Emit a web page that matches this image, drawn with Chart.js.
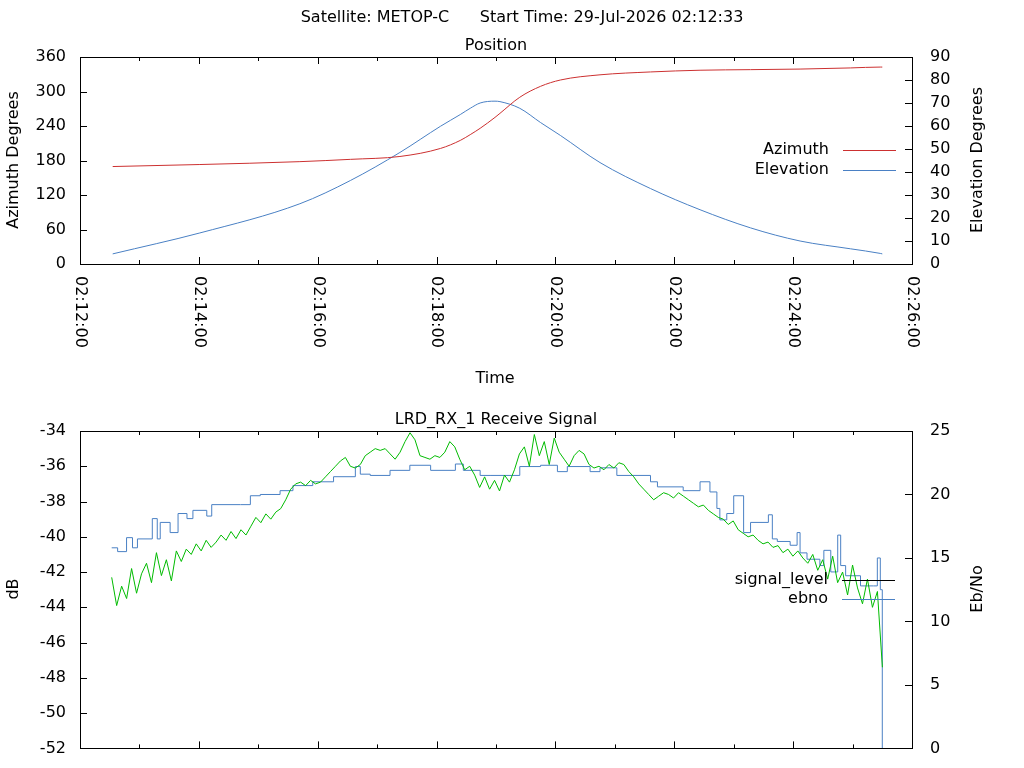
<!DOCTYPE html>
<html>
<head>
<meta charset="utf-8">
<script src="https://cdn.jsdelivr.net/npm/chart.js@4"></script>
<style>
  body { margin: 0; background: #fff; overflow: hidden; }
  #wrap { position: relative; width: 1024px; height: 768px; overflow: hidden; }
  canvas { position: absolute; left: 0; }
</style>
</head>
<body>
<div id="wrap">
  <canvas id="posChart" style="top:0" width="1024" height="400"></canvas>
  <canvas id="sigChart" style="top:400px" width="1024" height="376"></canvas>
</div>
<script>
// time is seconds after 02:12:00
const posTime = [33, 121, 222, 273, 323, 364, 384, 394, 404, 419, 424, 444, 465, 485, 525, 576, 626, 677, 727, 778, 808, 810];
const azimuth = [169.5, 173, 178, 182, 187, 201, 215, 225, 236, 255, 262, 290, 309, 320, 329, 334, 337, 338, 339, 341, 342.5, 342.5];
const elevation = [4.4, 13.5, 26.2, 36.3, 48.5, 59.9, 65, 67.7, 70, 70.8, 70.6, 67.7, 61.5, 55.9, 44.1, 32.8, 23.6, 15.7, 10.0, 6.6, 4.6, 4.4];

// signal level (dB), sampled every ~5 s from 02:12:32
const sigStart = 32, sigStep = 5.02;
const signalLevel = [
  -42.3, -43.9, -42.8, -43.5, -41.8, -43.2, -42.1,
  -41.5, -42.6, -40.9, -42.2, -41.3, -42.5, -40.8,
  -41.4, -40.7, -41.0, -40.4, -40.8, -40.2, -40.6,
  -40.3, -39.9, -40.2, -39.7, -40.1, -39.6, -39.9,
  -39.4, -38.9, -39.2, -38.7, -39.0, -38.6, -38.4,
  -37.9, -37.3, -37.0, -36.9, -37.1, -36.8, -37.0,
  -36.9, -36.6, -36.3, -36.0, -35.7, -35.5, -36.0,
  -36.1, -35.9, -35.4, -35.2, -35.0, -35.1, -35.0,
  -35.3, -35.6, -35.2, -34.6, -34.1, -34.5, -35.4,
  -35.5, -35.6, -35.4, -35.5, -35.2, -34.6, -34.9,
  -35.6, -36.2, -36.0, -36.5, -37.2, -36.6, -37.3,
  -36.8, -37.4, -36.5, -36.9, -36.2, -35.3, -34.9,
  -36.0, -34.2, -35.4, -34.6, -35.9, -34.4, -35.2,
  -35.6, -36.0, -35.4, -35.1, -35.3, -35.9, -36.1,
  -36.0, -36.2, -35.9, -36.1, -35.8, -35.9, -36.3,
  -36.6, -37.0, -37.3, -37.6, -37.9, -37.7, -37.5,
  -37.6, -37.8, -37.5, -37.7, -37.9, -38.1, -38.3,
  -38.2, -38.5, -38.7, -38.9, -39.0, -39.3, -39.1,
  -39.6, -39.8, -40.0, -39.9, -40.2, -40.4, -40.3,
  -40.6, -40.5, -40.9, -40.7, -41.1, -40.8, -41.2,
  -41.5, -41.0, -41.9, -41.3, -42.4, -41.1, -42.6,
  -42.0, -43.3, -41.6, -42.9, -43.8, -42.4, -44.0,
  -43.1, -47.4
];

const ebnoTime = [32, 38, 47, 53, 58, 73, 78, 81, 91, 99, 108, 114, 128, 133, 162, 172, 182, 202, 215, 235, 256, 278, 283, 293, 313, 333, 354, 379, 387, 404,
  414, 444, 465, 482, 492, 515, 525, 542, 576, 583, 609, 626, 636, 643, 646, 653, 660, 670, 677, 695, 699, 704, 717, 724, 727, 734, 747, 751, 758, 765, 768, 773, 788, 801, 805, 808, 810];
const ebno = [15.8, 15.5, 16.6, 15.8, 16.5, 18.1, 16.5, 17.8, 17.0, 18.5, 18.1, 18.75, 18.3, 19.2, 19.2, 19.9, 20.0, 20.3, 20.7, 21.0, 21.4, 22.2, 21.6, 21.5, 21.9, 22.3, 21.9, 22.4, 21.9, 21.5,
  21.5, 22.2, 22.3, 21.8, 22.2, 21.8, 22.1, 21.5, 21.0, 20.6, 20.3, 21.0, 20.2, 18.9, 18.0, 18.5, 19.9, 17.0, 17.8, 18.4, 16.5, 16.3, 16.0, 17.0, 15.4, 14.9, 14.4, 15.6, 13.9, 16.8, 14.4, 13.6, 12.8, 12.8, 15.0, 12.5, 0];

const FONT = '"DejaVu Sans", sans-serif';
const FS = 16;
const RED = '#cc3030', BLUE = '#4a80c4', GREEN = '#00bb00';

function pts(xs, ys) { return ys.map((y, i) => ({ x: xs[i], y: y })); }

// gnuplot-like frame, inward ticks, rotated labels, key and texts
const gnuFrame = {
  id: 'gnu',
  afterDraw(chart, args, opts) {
    const ctx = chart.ctx, a = chart.chartArea;
    const sx = chart.scales.x;
    ctx.save();
    ctx.strokeStyle = '#000';
    ctx.lineWidth = 1;
    ctx.strokeRect(Math.round(a.left) + 0.5, Math.round(a.top) + 0.5, Math.round(a.right - a.left), Math.round(a.bottom - a.top));
    ctx.beginPath();
    for (let t = 0; t <= 840; t += 60) {
      const px = Math.round(sx.getPixelForValue(t)) + 0.5;
      const len = t % 120 === 0 ? 7 : 4;
      ctx.moveTo(px, a.bottom); ctx.lineTo(px, a.bottom - len);
      ctx.moveTo(px, a.top); ctx.lineTo(px, a.top + len);
    }
    ['y', 'y2'].forEach(id => {
      const s = chart.scales[id];
      s.ticks.forEach(tk => {
        const py = Math.round(s.getPixelForValue(tk.value)) + 0.5;
        if (id === 'y') { ctx.moveTo(a.left, py); ctx.lineTo(a.left + 7, py); }
        else { ctx.moveTo(a.right, py); ctx.lineTo(a.right - 7, py); }
      });
    });
    ctx.stroke();
    ctx.fillStyle = '#000';
    ctx.font = FS + 'px ' + FONT;
    if (opts.timeLabels) {
      for (let t = 0; t <= 840; t += 120) {
        const px = sx.getPixelForValue(t);
        const m = 12 + t / 60;
        ctx.save();
        ctx.translate(px, a.bottom + 12);
        ctx.rotate(Math.PI / 2);
        ctx.textAlign = 'left';
        ctx.textBaseline = 'middle';
        ctx.fillText('02:' + (m < 10 ? '0' : '') + m + ':00', 0, 0);
        ctx.restore();
      }
    }
    (opts.texts || []).forEach(tx => {
      ctx.save();
      ctx.translate(tx.x, tx.y);
      if (tx.rot) ctx.rotate(tx.rot);
      ctx.textAlign = tx.align || 'center';
      ctx.textBaseline = 'middle';
      ctx.fillText(tx.text, 0, 0);
      ctx.restore();
    });
    (opts.key || []).forEach(k => {
      ctx.textAlign = 'right';
      ctx.textBaseline = 'middle';
      ctx.fillStyle = '#000';
      ctx.fillText(k.text, k.x, k.y);
      ctx.strokeStyle = k.color;
      ctx.beginPath();
      ctx.moveTo(k.x + 14, Math.round(k.y) + 0.5);
      ctx.lineTo(k.x + 67, Math.round(k.y) + 0.5);
      ctx.stroke();
    });
    ctx.restore();
  }
};

function axis(pos, min, max, step, pad, width) {
  return {
    position: pos, min: min, max: max,
    grid: { display: false, drawTicks: false },
    border: { display: false },
    ticks: { stepSize: step, padding: pad, color: '#000', font: { family: FONT, size: FS } },
    afterFit: s => { s.width = width; }
  };
}

const xAxis = h => ({
  type: 'linear', min: 0, max: 840,
  grid: { display: false, drawTicks: false },
  border: { display: false },
  ticks: { display: false },
  afterFit: s => { s.height = h; }
});

new Chart(document.getElementById('posChart'), {
  type: 'line',
  data: {
    datasets: [
      { data: pts(posTime, azimuth), yAxisID: 'y', borderColor: RED, borderWidth: 1, pointRadius: 0, cubicInterpolationMode: 'monotone' },
      { data: pts(posTime, elevation), yAxisID: 'y2', borderColor: BLUE, borderWidth: 1, pointRadius: 0, cubicInterpolationMode: 'monotone' }
    ]
  },
  options: {
    responsive: false, animation: false,
    layout: { padding: { top: 57, left: 0, right: 0, bottom: 0 } },
    scales: {
      x: xAxis(136),
      y: axis('left', 0, 360, 60, 14, 80),
      y2: axis('right', 0, 90, 10, 18, 112)
    },
    plugins: {
      legend: { display: false }, tooltip: { enabled: false },
      gnu: {
        timeLabels: true,
        texts: [
          { text: 'Satellite: METOP-C      Start Time: 29-Jul-2026 02:12:33', x: 522, y: 18 },
          { text: 'Position', x: 496, y: 46 },
          { text: 'Time', x: 495, y: 379 },
          { text: 'Azimuth Degrees', x: 14, y: 160, rot: -Math.PI / 2 },
          { text: 'Elevation Degrees', x: 978, y: 160, rot: -Math.PI / 2 }
        ],
        key: [
          { text: 'Azimuth', x: 829, y: 150, color: RED },
          { text: 'Elevation', x: 829, y: 170, color: BLUE }
        ]
      }
    }
  },
  plugins: [gnuFrame]
});

new Chart(document.getElementById('sigChart'), {
  type: 'line',
  data: {
    datasets: [
      { data: signalLevel.map((v, i) => ({ x: sigStart + i * sigStep, y: v })), yAxisID: 'y', borderColor: GREEN, borderWidth: 1, pointRadius: 0 },
      { data: pts(ebnoTime, ebno), yAxisID: 'y2', borderColor: BLUE, borderWidth: 1, pointRadius: 0, stepped: true }
    ]
  },
  options: {
    responsive: false, animation: false,
    layout: { padding: { top: 31, left: 0, right: 0, bottom: 0 } },
    scales: {
      x: xAxis(14),
      y: axis('left', -52, -34, 2, 14, 80),
      y2: axis('right', 0, 25, 5, 18, 112)
    },
    plugins: {
      legend: { display: false }, tooltip: { enabled: false },
      gnu: {
        texts: [
          { text: 'LRD_RX_1 Receive Signal', x: 496, y: 20 },
          { text: 'dB', x: 14, y: 189, rot: -Math.PI / 2 },
          { text: 'Eb/No', x: 978, y: 189, rot: -Math.PI / 2 }
        ],
        key: [
          { text: 'signal_level', x: 828, y: 180, color: '#000' },
          { text: 'ebno', x: 828, y: 199, color: BLUE }
        ]
      }
    }
  },
  plugins: [gnuFrame]
});
</script>
</body>
</html>
